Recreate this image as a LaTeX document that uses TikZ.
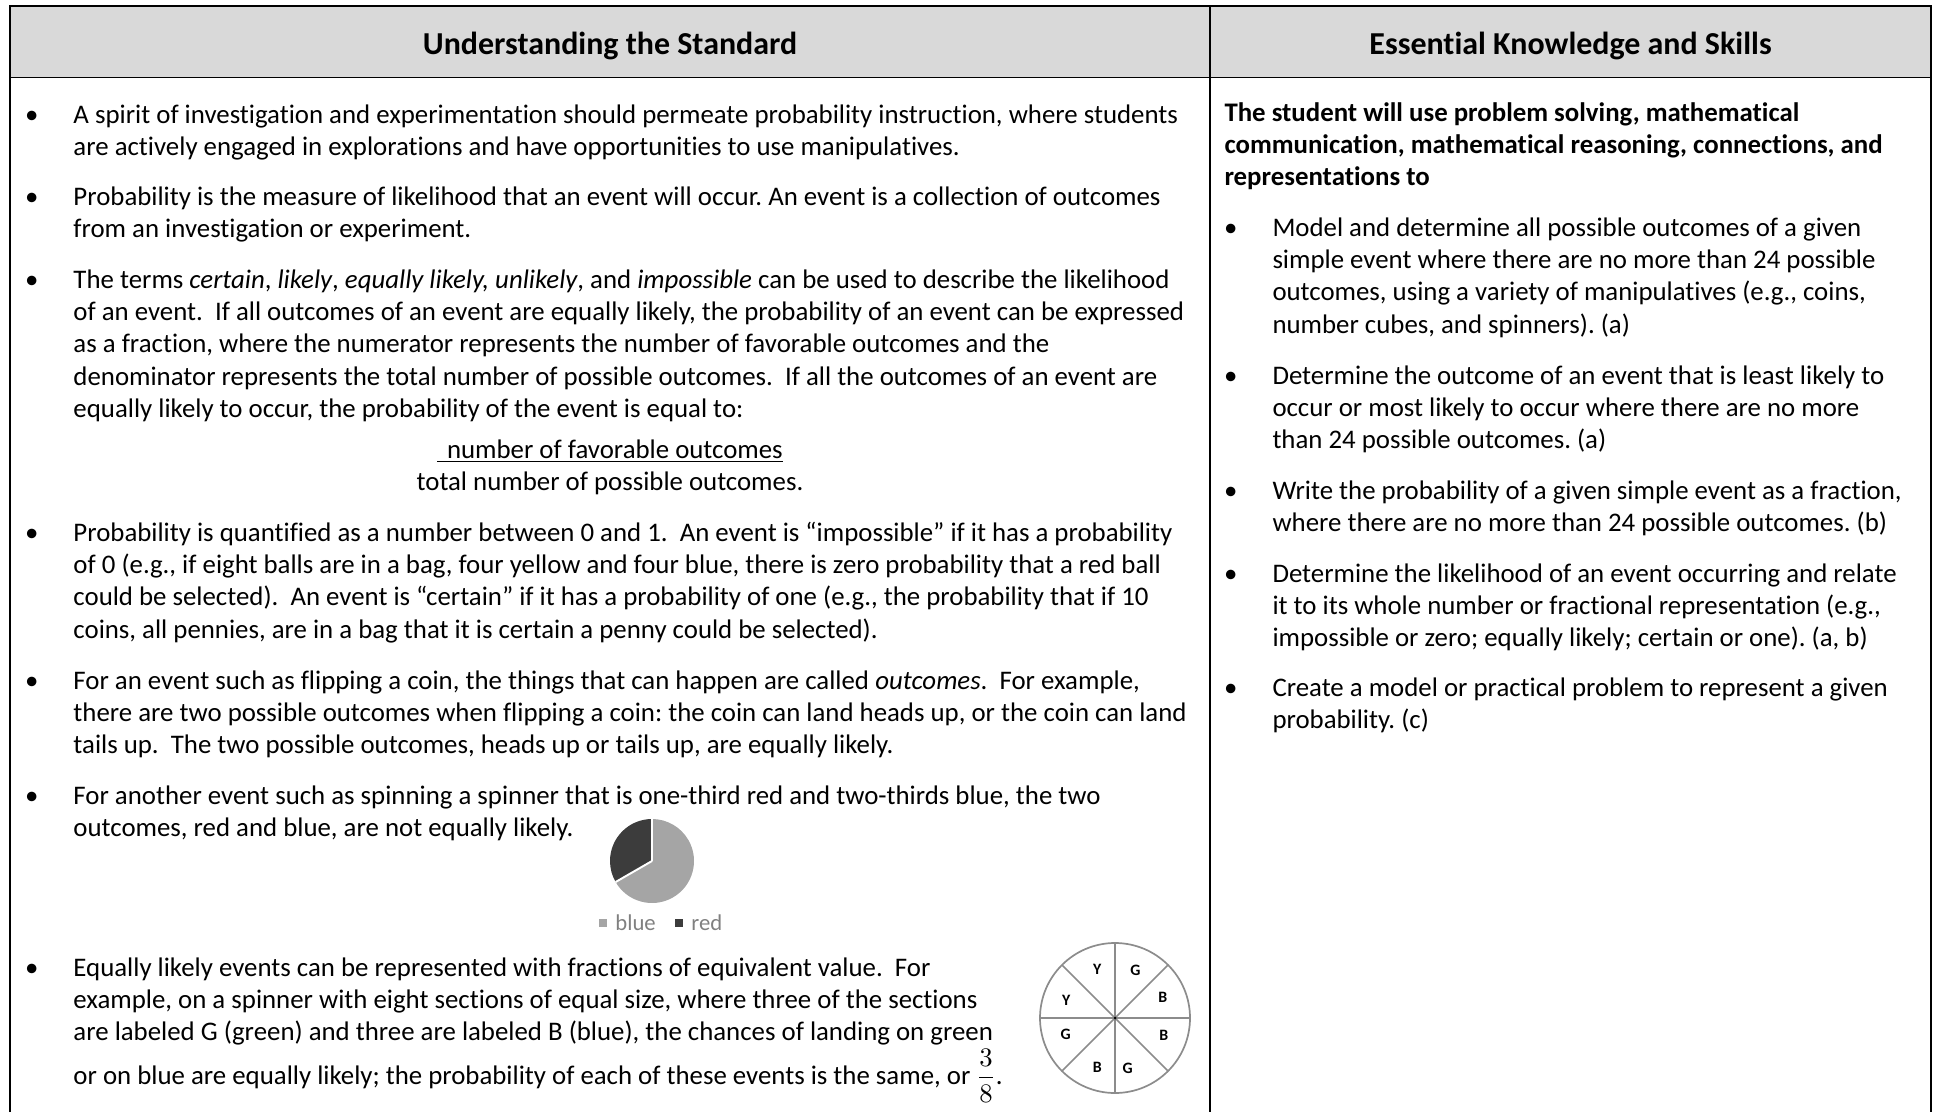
\documentclass[tikz,border=0pt]{standalone}
\usepackage{amsmath}
\usepackage{fontspec}
\setmainfont{Carlito}[Ligatures=NoCommon]
\usepackage{tikz}
\usetikzlibrary{positioning,
                calc}
\frenchspacing
\definecolor{headgray}{RGB}{217,217,217}
\definecolor{pieblue}{RGB}{165,165,165}
\definecolor{piered}{RGB}{60,60,60}
\definecolor{spingray}{RGB}{140,140,140}
\definecolor{leggray}{RGB}{128,128,128}
\tikzstyle{para} = [anchor=base west, inner sep=0pt, text width=520pt, align=flush left, font=\fontsize{11}{13.3}\selectfont]
\tikzstyle{parb} = [para, text width=320pt]
\tikzstyle{lead} = [parb, font=\fontsize{11}{13.3}\selectfont\bfseries]
\tikzstyle{dot} = [inner sep=0pt, font=\fontsize{11}{13.3}\selectfont]
\tikzstyle{head} = [inner sep=0pt, font=\fontsize{13.1}{15}\selectfont\bfseries]
\tikzstyle{rule} = [line width=0.8pt]
\tikzstyle{spin} = [inner sep=0pt, font=\fontsize{6.5}{7}\selectfont\bfseries]
\tikzstyle{sq} = [inner sep=0pt, minimum size=3.4pt]
\tikzstyle{leg} = [inner sep=0pt, text=leggray, font=\fontsize{9.3}{10}\selectfont]

\begin{document}
\begin{tikzpicture}[x=0.41pt, y=0.41pt]
\useasboundingbox (0,0) rectangle (1935,-1112);
\coordinate (tl) at (10,-6);
\coordinate (tm) at (1210,-6);
\coordinate (tr) at (1931,-6);
\coordinate (hl) at (10,-77.5);
\coordinate (hm) at (1210,-77.5);
\coordinate (hr) at (1931,-77.5);
\coordinate (bl) at (10,-1112);
\coordinate (bm) at (1210,-1112);
\coordinate (br) at (1931,-1112);
\fill[headgray] (tl) rectangle (hr);
\draw[rule] (bl) -- (tl) -- (tr) -- (br);
\draw[rule] (hl) -- (hr);
\draw[rule] (tm) -- (bm);
\node[head] (h1) at ($(tl)!0.5!(hm)+(0,-4)$) {Understanding the Standard};
\node[head] (h2) at ($(tm)!0.5!(hr)+(0,-4)$) {Essential Knowledge and Skills};

\node[para] (p1) at (73,-123) {A spirit of investigation and experimentation should permeate probability instruction, where students\\
are actively engaged in explorations and have opportunities to use manipulatives.};
\node[dot, base left=14pt of p1] (d1) {\textbullet};
\node[para] (p2) at (73,-205) {Probability is the measure of likelihood that an event will occur. An event is a collection of outcomes\\
from an investigation or experiment.};
\node[dot, base left=14pt of p2] (d2) {\textbullet};
\node[para] (p3) at (73,-288) {The terms \textit{certain}, \textit{likely}, \textit{equally likely, unlikely}, and \textit{impossible} can be used to describe the likelihood\\
of an event.\ \ If all outcomes of an event are equally likely, the probability of an event can be expressed\\
as a fraction, where the numerator represents the number of favorable outcomes and the\\
denominator represents the total number of possible outcomes.\ \ If all the outcomes of an event are\\
equally likely to occur, the probability of the event is equal to:};
\node[dot, base left=14pt of p3] (d3) {\textbullet};
\node[para, anchor=base, align=flush center, text width=200pt] (fr) at (610,-458) {\underline{\hspace{4pt}number of favorable outcomes}\\
total number of possible outcomes.};
\node[para] (p4) at (73,-541) {Probability is quantified as a number between 0 and 1.\ \ An event is “impossible” if it has a probability\\
of 0 (e.g., if eight balls are in a bag, four yellow and four blue, there is zero probability that a red ball\\
could be selected).\ \ An event is “certain” if it has a probability of one (e.g., the probability that if 10\\
coins, all pennies, are in a bag that it is certain a penny could be selected).};
\node[dot, base left=14pt of p4] (d4) {\textbullet};
\node[para] (p5) at (73,-689) {For an event such as flipping a coin, the things that can happen are called \textit{outcomes}.\ \ For example,\\
there are two possible outcomes when flipping a coin: the coin can land heads up, or the coin can land\\
tails up.\ \ The two possible outcomes, heads up or tails up, are equally likely.};
\node[dot, base left=14pt of p5] (d5) {\textbullet};
\node[para] (p6) at (73,-804) {For another event such as spinning a spinner that is one-third red and two-thirds blue, the two\\
outcomes, red and blue, are not equally likely.};
\node[dot, base left=14pt of p6] (d6) {\textbullet};
\node[para] (p7) at (73,-976) {Equally likely events can be represented with fractions of equivalent value.\ \ For\\
example, on a spinner with eight sections of equal size, where three of the sections\\
are labeled G (green) and three are labeled B (blue), the chances of landing on green\\[4.6pt]
or on blue are equally likely; the probability of each of these events is the same, or \raisebox{0pt}[0pt][0pt]{$\dfrac{3}{8}$}.};
\node[dot, base left=14pt of p7] (d7) {\textbullet};

\coordinate (pc) at (652,-861);
\fill[pieblue] (pc) -- ++(210:42) arc[start angle=210, end angle=450, radius=42] -- cycle;
\fill[piered] (pc) -- ++(90:42) arc[start angle=90, end angle=210, radius=42] -- cycle;
\draw[white, line width=0.8pt] (pc) -- ++(90:42) (pc) -- ++(210:42);
\node[sq, fill=pieblue] (sqb) at (603,-923) {};
\node[leg, right=3pt of sqb] (lb) {blue};
\node[sq, fill=piered] (sqr) at (679,-923) {};
\node[leg, right=3pt of sqr] (lr) {red};

\coordinate (sc) at (1115,-1018);
\draw[spingray, line width=0.7pt] (sc) circle[radius=75];
\foreach \a in {0,45,...,315}
  \draw[spingray, line width=0.7pt] (sc) -- ++(\a:75);
\fill (sc) circle[radius=1.5];
\foreach \a/\l in {110/Y, 160/Y, 67/G, 23/B, -20/B, -76/G, -110/B, 198/G}
  \node[spin] at ([shift={(\a:52)}]sc) {\l};

\node[lead] (q0) at (1224,-121) {The student will use problem solving, mathematical\\
communication, mathematical reasoning, connections, and\\
representations to};
\node[parb] (q1) at (1272,-236) {Model and determine all possible outcomes of a given\\
simple event where there are no more than 24 possible\\
outcomes, using a variety of manipulatives (e.g., coins,\\
number cubes, and spinners). (a)};
\node[dot, base left=14pt of q1] (e1) {\textbullet};
\node[parb] (q2) at (1272,-384) {Determine the outcome of an event that is least likely to\\
occur or most likely to occur where there are no more\\
than 24 possible outcomes. (a)};
\node[dot, base left=14pt of q2] (e2) {\textbullet};
\node[parb] (q3) at (1272,-499) {Write the probability of a given simple event as a fraction,\\
where there are no more than 24 possible outcomes. (b)};
\node[dot, base left=14pt of q3] (e3) {\textbullet};
\node[parb] (q4) at (1272,-582) {Determine the likelihood of an event occurring and relate\\
it to its whole number or fractional representation (e.g.,\\
impossible or zero; equally likely; certain or one). (a, b)};
\node[dot, base left=14pt of q4] (e4) {\textbullet};
\node[parb] (q5) at (1272,-696) {Create a model or practical problem to represent a given\\
probability. (c)};
\node[dot, base left=14pt of q5] (e5) {\textbullet};
\end{tikzpicture}
\end{document}
